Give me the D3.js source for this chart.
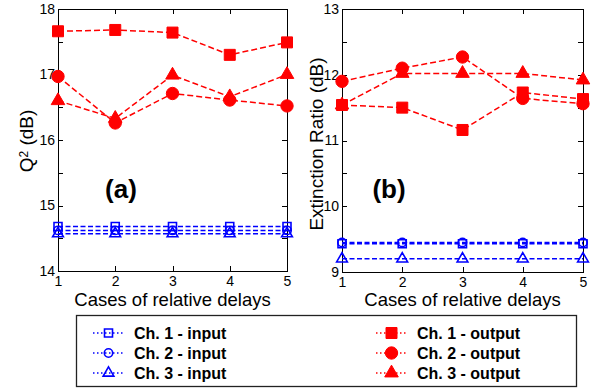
<!DOCTYPE html>
<html lang="en">
<head>
    <meta charset="UTF-8"/>
    <title>Q2 and extinction ratio</title>
    <script src="https://d3js.org/d3.v7.min.js" charset="utf-8"></script>
    <style type="text/css">
        body { margin: 0; background: #fff; }
        text { font-family: Arial, "Liberation Sans", sans-serif; }
        .axis path, .axis line { stroke: #000; stroke-width: 1px; shape-rendering: crispEdges; }
        .axis text { font-size: 14px; fill: #000; }
        .legend text { font-size: 16px; font-weight: bold; }
    </style>
</head>
<body>
<svg width="591" height="388"></svg>
<script>
    let cases = [1, 2, 3, 4, 5];

    // panel (a): Q^2 (dB)
    let qIn1 = [14.68, 14.68, 14.68, 14.68, 14.68];
    let qIn2 = [14.62, 14.62, 14.62, 14.62, 14.62];
    let qIn3 = [14.57, 14.57, 14.57, 14.57, 14.57];
    let qOut1 = [17.66, 17.68, 17.64, 17.30, 17.49];
    let qOut2 = [16.97, 16.26, 16.71, 16.61, 16.52];
    let qOut3 = [16.60, 16.33, 16.99, 16.66, 17.00];

    // panel (b): extinction ratio (dB)
    let erIn1 = [9.43, 9.43, 9.43, 9.43, 9.43];
    let erIn2 = [9.45, 9.45, 9.45, 9.45, 9.45];
    let erIn3 = [9.20, 9.20, 9.20, 9.20, 9.20];
    let erOut1 = [11.54, 11.50, 11.16, 11.73, 11.63];
    let erOut2 = [11.90, 12.10, 12.27, 11.64, 11.56];
    let erOut3 = [11.54, 12.02, 12.02, 12.02, 11.92];

    let qTicks = [14, 14.5, 15, 15.5, 16, 16.5, 17, 17.5, 18];
    let erTicks = [9, 9.5, 10, 10.5, 11, 11.5, 12, 12.5, 13];

    let legendNames = ["Ch. 1 - input", "Ch. 2 - input", "Ch. 3 - input",
                       "Ch. 1 - output", "Ch. 2 - output", "Ch. 3 - output"];

    let svg = d3.select("svg");

    let shapes = [d3.symbolSquare, d3.symbolCircle, d3.symbolTriangle];
    let bigSize = [121, 120, 80];
    let smallSize = [64, 55, 50];

    function marker(sel, i, filled) {
        sel.attr("d", d3.symbol().type(shapes[i]).size(filled ? bigSize[i] : smallSize[i])())
            .attr("fill", filled ? "#ff0000" : "none")
            .attr("stroke", filled ? "#ff0000" : "#0000ff")
            .attr("stroke-width", filled ? 1 : 1.6);
    }

    function panel(opt) {
        let x = d3.scaleLinear().domain([1, 5]).range([opt.x0, opt.x1]);
        let y = d3.scaleLinear().domain(opt.domain).range([opt.y0, opt.y1]);
        let g = svg.append("g");

        let fmt = function(d) { return d % 1 === 0 ? d : ""; };

        g.append("g").attr("class", "axis")
            .attr("transform", "translate(0," + opt.y0 + ")")
            .call(d3.axisBottom(x).tickValues(cases).tickFormat(d3.format("d")).tickSize(-5).tickPadding(5));
        g.append("g").attr("class", "axis")
            .attr("transform", "translate(0," + opt.y1 + ")")
            .call(d3.axisTop(x).tickValues(cases).tickSize(-5).tickFormat(""));
        g.append("g").attr("class", "axis")
            .attr("transform", "translate(" + opt.x0 + ",0)")
            .call(d3.axisLeft(y).tickValues(opt.ticks).tickSize(-5).tickPadding(3).tickFormat(fmt));
        g.append("g").attr("class", "axis")
            .attr("transform", "translate(" + opt.x1 + ",0)")
            .call(d3.axisRight(y).tickValues(opt.ticks).tickSize(-5).tickFormat(""));
        g.selectAll(".axis .domain").attr("stroke-width", 1.2);

        let line = d3.line().x(function(d, i) { return x(cases[i]); }).y(function(d) { return y(d); });

        opt.series.forEach(function(s, k) {
            let filled = k >= 3;
            let color = filled ? "#ff0000" : "#0000ff";
            g.append("path").datum(s)
                .attr("d", line)
                .attr("fill", "none")
                .attr("stroke", color)
                .attr("stroke-width", 1.5)
                .attr("stroke-dasharray", filled ? "6,3" : "5,2.5");
            g.selectAll(null).data(s).enter().append("path")
                .attr("transform", function(d, i) { return "translate(" + x(cases[i]) + "," + y(d) + ")"; })
                .each(function() { marker(d3.select(this), k % 3, filled); });
        });

        g.append("text")
            .attr("x", (opt.x0 + opt.x1) / 2).attr("y", 306)
            .attr("text-anchor", "middle").attr("font-size", "18.5px")
            .text("Cases of relative delays");

        let yl = g.append("text")
            .attr("transform", "translate(" + opt.labelX + "," + opt.labelY + ") rotate(-90)")
            .attr("text-anchor", "middle").attr("font-size", "19px");
        opt.ylabel(yl);

        g.append("text")
            .attr("x", opt.tagX).attr("y", 198)
            .attr("text-anchor", "middle").attr("font-size", "26px").attr("font-weight", "bold")
            .text(opt.tag);
    }

    panel({
        x0: 58, x1: 287, y0: 271, y1: 9, domain: [14, 18], ticks: qTicks,
        series: [qIn1, qIn2, qIn3, qOut1, qOut2, qOut3],
        labelX: 33, labelY: 141, tag: "(a)", tagX: 121,
        ylabel: function(t) {
            t.append("tspan").text("Q");
            t.append("tspan").attr("dy", "-0.45em").attr("font-size", "12px").text("2");
            t.append("tspan").attr("dy", "0.3em").text(" (dB)");
        }
    });

    panel({
        x0: 342, x1: 583, y0: 272, y1: 9, domain: [9, 13], ticks: erTicks,
        series: [erIn1, erIn2, erIn3, erOut1, erOut2, erOut3],
        labelX: 323, labelY: 144, tag: "(b)", tagX: 389,
        ylabel: function(t) { t.text("Extinction Ratio (dB)"); }
    });

    // legend
    let lg = svg.append("g").attr("class", "legend");
    lg.append("rect").attr("x", 76.5).attr("y", 315.5).attr("width", 500).attr("height", 71)
        .attr("fill", "#fff").attr("stroke", "#222").attr("stroke-width", 1.3);

    legendNames.forEach(function(name, k) {
        let col = k < 3 ? 0 : 1;
        let row = k % 3;
        let lx = col === 0 ? 93 : 376;
        let ly = 333 + row * 20;
        let filled = col === 1;
        let color = filled ? "#ff0000" : "#0000ff";
        lg.append("line").attr("x1", lx).attr("x2", lx + 31).attr("y1", ly).attr("y2", ly)
            .attr("stroke", color).attr("stroke-width", 1.5).attr("stroke-dasharray", "1.5,2.5");
        lg.append("path").attr("transform", "translate(" + (lx + 15.5) + "," + ly + ")")
            .each(function() { marker(d3.select(this), row, filled); });
        lg.append("text").attr("x", lx + 41).attr("y", ly + 6).text(name);
    });
</script>
</body>
</html>
